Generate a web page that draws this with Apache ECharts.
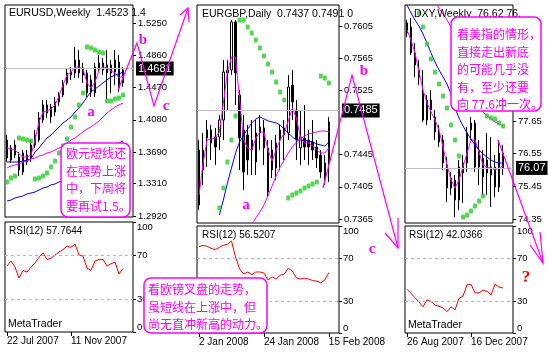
<!DOCTYPE html>
<html><head><meta charset="utf-8">
<script src="https://cdn.jsdelivr.net/npm/echarts@6/dist/echarts.min.js"></script>
<style>html,body{margin:0;padding:0;background:#fff}#c{width:548px;height:352px}</style>
</head><body><div id="c"></div>
<script>
// ---------------- DATA ----------------
// EURUSD weekly  [open, close, low, high]
const usdCandles = [
[1.3837,1.3620,1.3571,1.3897],[1.3595,1.3740,1.3559,1.3777],[1.3777,1.3656,1.3620,1.3837],
[1.3632,1.3475,1.3402,1.3692],[1.3450,1.3680,1.3414,1.3716],[1.3656,1.3571,1.3535,1.3716],
[1.3620,1.3777,1.3571,1.3837],[1.3777,1.3897,1.3740,1.3958],[1.3837,1.4103,1.3813,1.4175],
[1.4079,1.4260,1.4042,1.4320],[1.4260,1.4163,1.4103,1.4320],[1.4236,1.4115,1.4042,1.4272],
[1.4296,1.4175,1.4127,1.4356],[1.4296,1.4380,1.4248,1.4417],[1.4380,1.4525,1.4356,1.4562],
[1.4525,1.4646,1.4501,1.4707],[1.4622,1.4658,1.4562,1.4719],[1.4646,1.4803,1.4586,1.4960],
[1.4803,1.4646,1.4586,1.4924],[1.4707,1.4622,1.4525,1.4767],[1.4646,1.4405,1.4356,1.4682],
[1.4562,1.4417,1.4356,1.4622],[1.4405,1.4719,1.4356,1.4767],[1.4707,1.4767,1.4658,1.4864],
[1.4767,1.4682,1.4622,1.4827],[1.4743,1.4646,1.4320,1.4924],[1.4646,1.4743,1.4405,1.4803],
[1.4803,1.4658,1.4501,1.4924],[1.4779,1.4465,1.4417,1.4864],[1.4525,1.4682,1.4477,1.4719]
];
const usdMaFast = [1.3740,1.3728,1.3716,1.3668,1.3632,1.3632,1.3656,1.3837,1.4054,1.4175,1.4187,1.4211,1.4260,1.4368,1.4501,1.4622,1.4658,1.4719,1.4719,1.4694,1.4525,1.4465,1.4537,1.4682,1.4719,1.4707,1.4670,1.4646,1.4586,1.4610];
const usdMaMid = [1.3571,1.3571,1.3571,1.3571,1.3583,1.3595,1.3608,1.3692,1.3740,1.3801,1.3861,1.3897,1.3946,1.3994,1.4042,1.4079,1.4115,1.4175,1.4223,1.4284,1.4356,1.4417,1.4453,1.4489,1.4525,1.4562,1.4598,1.4622,1.4634,1.4658];
const usdMaSlow = [1.3499,1.3523,1.3535,1.3547,1.3571,1.3583,1.3608,1.3620,1.3644,1.3656,1.3680,1.3692,1.3716,1.3740,1.3765,1.3801,1.3837,1.3861,1.3897,1.3934,1.3970,1.3994,1.4030,1.4066,1.4115,1.4163,1.4199,1.4236,1.4260,1.4284];
const usdMaLong = [1.3100,1.3112,1.3137,1.3149,1.3161,1.3185,1.3197,1.3209,1.3233,1.3257,1.3269,1.3294,1.3306,1.3330,1.3342,1.3366,1.3390,1.3414,1.3450,1.3475,1.3511,1.3547,1.3583,1.3620,1.3656,1.3692,1.3728,1.3765,1.3801,1.3825];
const usdSar = [1.3330,1.3378,1.3402,1.3861,1.3849,1.3837,1.3825,1.3366,1.3378,1.3402,1.3438,1.3511,1.3583,1.3680,1.3765,1.3849,1.3994,1.4115,1.4260,1.4405,1.4960,1.4948,1.4924,1.4900,1.4888,1.4308,1.4308,1.4332,1.4344,1.4380];
const usdRsi = [60,64.5,59,49,56,54.5,59,62.7,68,72,66,67,70,72.7,75,78,77,80,70,69,58,56,64.5,66,66,60,62,63.6,52.7,57.76];
const usdPriceLabels = [1.2920,1.3310,1.3690,1.4080,1.4470,1.4860,1.5250];
const usdDateTicks = [[0,'22 Jul 2007'],[16,'11 Nov 2007']];

// EURGBP daily
const gbpCandles = [
[0.74508,0.73824,0.73762,0.74632],[0.74259,0.74508,0.74073,0.74719],[0.74757,0.74657,0.74297,0.74881],
[0.74595,0.74757,0.74384,0.74819],[0.74670,0.74545,0.74322,0.74782],[0.74670,0.74881,0.74508,0.74943],
[0.74881,0.75478,0.74632,0.75627],[0.75466,0.75503,0.75005,0.75627],[0.75503,0.76100,0.75441,0.76125],
[0.76100,0.75466,0.75068,0.76125],[0.75192,0.74657,0.74259,0.75254],[0.74757,0.74234,0.74011,0.74943],
[0.74695,0.74384,0.74197,0.74819],[0.74508,0.74632,0.74197,0.74881],[0.74359,0.74719,0.74197,0.74881],
[0.74719,0.74794,0.74508,0.74943],[0.74782,0.74533,0.74322,0.74881],[0.74533,0.73986,0.73924,0.74632],
[0.74259,0.74508,0.74160,0.74632],[0.74595,0.74284,0.74135,0.74695],[0.74632,0.74757,0.74259,0.74819],
[0.74782,0.74695,0.74384,0.74881],[0.74719,0.75291,0.74632,0.75441],[0.75316,0.75105,0.74881,0.75503],
[0.75005,0.74632,0.74384,0.75130],[0.74533,0.74670,0.74322,0.75005],[0.74657,0.74545,0.74384,0.75068],
[0.74632,0.74545,0.74322,0.74757],[0.74608,0.74508,0.74384,0.74881],[0.74545,0.74409,0.74284,0.74632],
[0.74446,0.74234,0.74160,0.74508],[0.74346,0.74172,0.74073,0.74446],[0.74346,0.74856,0.74110,0.74918]
];
const gbpMaFast = [0.73948,0.74346,0.74632,0.74645,0.74657,0.74732,0.75092,0.75478,0.75665,0.75665,0.75130,0.74632,0.74533,0.74508,0.74657,0.74732,0.74732,0.74508,0.74371,0.74508,0.74632,0.74719,0.74869,0.75030,0.74906,0.74657,0.74595,0.74595,0.74558,0.74508,0.74471,0.74471,0.74533];
const gbpMaMid = [null,null,null,null,null,0.73700,0.73886,0.74098,0.74284,0.74471,0.74608,0.74695,0.74769,0.74844,0.74894,0.74918,0.74894,0.74869,0.74856,0.74844,0.74819,0.74769,0.74719,0.74670,0.74632,0.74632,0.74632,0.74620,0.74608,0.74583,0.74570,0.74558,0.74608];
const gbpMaSlow = [null,null,null,null,null,null,null,null,null,null,null,null,null,0.73575,0.73662,0.73737,0.73824,0.73936,0.74060,0.74185,0.74297,0.74384,0.74471,0.74545,0.74608,0.74645,0.74682,0.74707,0.74719,0.74732,0.74744,0.74744,0.74732];
const gbpSar = [null,null,null,null,null,0.73787,0.74035,0.74359,0.74632,0.74931,0.76125,0.76125,0.76038,0.75963,0.75876,0.75776,0.75677,0.75577,0.75478,0.75354,0.75229,0.75130,0.73911,0.73948,0.73973,0.73998,0.74035,0.74060,0.74085,0.74110,0.75428,0.75403,0.75341];
const gbpRsi = [80.6,82,81,79,78,80,82,83,86,71,60,55,57,54.5,57,57,56,49.5,52.5,50.5,54,55,60.5,58,51.5,50.5,51,50.5,49,48.5,47,49.5,56.52];
const gbpPriceLabels = [0.7365,0.7405,0.7445,0.7525,0.7565,0.7605];
const gbpDateTicks = [[0,'2 Jan 2008'],[16,'24 Jan 2008'],[32,'15 Feb 2008']];

// DXY weekly
const dxyCandles = [
[80.950,80.613,80.479,81.051],[80.815,79.940,79.873,81.118],[79.940,79.536,79.132,80.277],
[79.368,79.132,78.862,79.704],[78.593,77.684,77.617,79.368],[78.357,77.684,77.516,78.526],
[78.357,78.021,77.684,78.694],[77.785,77.280,77.011,78.021],[77.246,76.943,76.775,77.516],
[77.011,76.236,76.001,77.179],[76.169,75.394,74.923,76.438],[75.394,75.731,75.159,75.933],
[75.664,74.990,74.418,75.832],[74.990,76.102,74.654,76.337],[75.900,76.236,74.889,76.506],
[76.236,77.246,75.933,77.448],[77.347,77.583,77.011,77.785],[77.583,76.102,75.933,77.684],
[76.674,76.102,75.496,77.011],[76.405,75.765,75.159,76.674],[75.900,76.337,75.159,77.246],
[75.832,76.102,74.755,77.112],[76.102,75.428,75.091,76.506],[75.428,76.573,75.260,77.011],
[76.573,76.070,75.832,76.842]
];
const dxyMaFast = [80.714,80.378,79.940,79.300,78.694,78.256,77.953,77.684,77.347,76.775,76.169,75.664,75.394,75.664,76.102,76.573,77.011,77.011,76.607,76.169,76.102,76.068,76.001,76.068,76.135];
const dxyMaMid = [81.556,81.287,81.051,80.849,80.580,80.277,79.940,79.637,79.368,79.132,78.896,78.559,78.088,77.751,77.482,77.246,77.044,76.842,76.674,76.539,76.438,76.337,76.270,76.236,76.236];
const dxyMaSlow = [null,null,null,null,null,null,null,81.691,81.455,81.253,81.051,80.815,80.378,79.940,79.502,79.098,78.761,78.458,78.189,77.953,77.819,77.718,77.617,77.549,77.482];
const dxySar = [null,null,null,81.287,80.815,80.243,79.738,79.300,78.896,78.492,78.088,77.516,77.011,76.472,74.418,74.485,74.620,74.788,74.957,75.125,77.819,77.751,77.718,77.583,77.482];
const dxyRsi = [40.8,37,33,29,24.5,31,29.5,26,25,23.5,20,24.5,21.5,32.5,34.5,45,45.5,37.5,37.5,40,39,35.5,45.5,43,42.04];
const dxyPriceLabels = [74.35,75.45,76.55,77.65,78.75,79.85,80.95];
const dxyDateTicks = [[0,'26 Aug 2007'],[16,'16 Dec 2007']];

const bidPrices = [1.4681, 0.7485, 76.07];
const rsiLevels = [0, 30, 70, 100];
const rsiLast = ['57.7644', '56.5207', '42.0366'];

// ---------------- CHART ----------------
const FONT = 'Liberation Sans';
const CJK = '"Noto Sans CJK SC"';
const PINK = '#ff00ff';
const chart = echarts.init(document.getElementById('c'), null, {renderer:'canvas', width:548, height:352});

function cats(n){ return Array.from({length:n}, (_, i) => String(i)); }
function tickMap(p){ const m = {}; p.forEach(t => { m[t[0]] = t[1]; }); return m; }

const grids = [
  {left:5, top:5, width:128, height:212},
  {left:5, top:222, width:128, height:110},
  {left:197, top:5, width:142, height:218},
  {left:197, top:226, width:142, height:107},
  {left:405, top:5, width:108, height:218},
  {left:405, top:226, width:108, height:107}
].map(g => Object.assign({show:true, borderColor:'#000', borderWidth:1, backgroundColor:'#fff'}, g));

function priceX(gi, n){
  return {type:'category', gridIndex:gi, data:cats(n), boundaryGap:true,
    axisLine:{show:false}, axisTick:{show:false}, axisLabel:{show:false}, splitLine:{show:false}};
}
function rsiX(gi, n, ticks){
  const m = tickMap(ticks);
  const has = (i) => m[i] !== undefined;
  return {type:'category', gridIndex:gi, data:cats(n), boundaryGap:true,
    axisLine:{show:false},
    axisTick:{show:true, alignWithLabel:true, interval:(i) => has(i), length:4, lineStyle:{color:'#000'}},
    axisLabel:{interval:(i) => has(i), formatter:(v, i) => m[i] || '', align:'left',
      color:'#000', fontSize:10, fontFamily:FONT, margin:4},
    splitLine:{show:false}};
}
function priceY(gi, min, max, labels, dec){
  return {type:'value', gridIndex:gi, position:'right', min:min, max:max,
    splitLine:{show:false}, axisLine:{show:false},
    axisTick:{show:true, length:3, customValues:labels, lineStyle:{color:'#000'}},
    axisLabel:{customValues:labels, formatter:(v) => Number(v).toFixed(dec), color:'#000',
      fontSize:9.5, fontFamily:FONT, margin:5}};
}
function rsiY(gi){
  return {type:'value', gridIndex:gi, position:'right', min:0, max:100,
    splitLine:{show:false}, axisLine:{show:false},
    axisTick:{show:true, length:3, customValues:rsiLevels, lineStyle:{color:'#000'}},
    axisLabel:{customValues:rsiLevels, color:'#000', fontSize:9.5, fontFamily:FONT, margin:4,
      verticalAlignMinLabel:'bottom', verticalAlignMaxLabel:'top'}};
}

function line(gi, data, color){
  return {type:'line', xAxisIndex:gi, yAxisIndex:gi, data:data, showSymbol:false, symbol:'none',
    lineStyle:{color:color, width:1}, z:4, silent:true, clip:true};
}
function priceSeries(gi, candles, fast, mid, slow, sar, bid, dec){
  return [
    {type:'candlestick', xAxisIndex:gi, yAxisIndex:gi, data:candles, barWidth:2, z:3, silent:true,
      itemStyle:{color:'#fff', color0:'#000', borderColor:'#000', borderColor0:'#000', borderWidth:1},
      markLine:{symbol:'none', silent:true, animation:false,
        lineStyle:{color:'#c0c0c0', width:1, type:'solid'},
        label:{position:'end', formatter:() => bid.toFixed(dec), color:'#fff', backgroundColor:'#000',
          padding:[2,2,1,2], fontSize:11, fontFamily:FONT, distance:3},
        data:[{yAxis:bid}]}},
    line(gi, fast, PINK), line(gi, mid, '#0000ff'), line(gi, slow, PINK),
    {type:'scatter', xAxisIndex:gi, yAxisIndex:gi, data:sar, symbol:'roundRect', symbolSize:[4,5],
      itemStyle:{color:'#2ccc2c'}, z:5, silent:true}
  ];
}
function rsiSeries(gi, data){
  return {type:'line', xAxisIndex:gi, yAxisIndex:gi, data:data, showSymbol:false, symbol:'none',
    lineStyle:{color:'#ff0000', width:1}, silent:true,
    markLine:{symbol:'none', silent:true, animation:false, label:{show:false},
      lineStyle:{color:'#b8b8b8', width:1, type:[3,3]}, data:[{yAxis:30},{yAxis:70}]}};
}

const series = [].concat(
  priceSeries(0, usdCandles, usdMaFast, usdMaMid, usdMaSlow, usdSar, bidPrices[0], 4),
  [line(0, usdMaLong, '#0000ff')],
  priceSeries(2, gbpCandles, gbpMaFast, gbpMaMid, gbpMaSlow, gbpSar, bidPrices[1], 4),
  priceSeries(4, dxyCandles, dxyMaFast, dxyMaMid, dxyMaSlow, dxySar, bidPrices[2], 2),
  [rsiSeries(1, usdRsi), rsiSeries(3, gbpRsi), rsiSeries(5, dxyRsi)]
);

function txt(x, y, s, opt){
  return Object.assign({type:'text', x:x, y:y, z:100, silent:true,
    style:Object.assign({text:s, fill:'#000', font:'10px ' + FONT, verticalAlign:'middle'}, opt || {})});
}
function poly(points, w){
  return {type:'polyline', z:90, silent:true, shape:{points:points},
    style:{stroke:PINK, lineWidth:w || 1.2, fill:null}};
}
function box(x, y, w, h, tx, ty, s){
  return [
    {type:'rect', z:110, silent:true, shape:{x:x, y:y, width:w, height:h, r:7},
      style:{fill:'#fff', stroke:PINK, lineWidth:1.5}},
    {type:'text', z:111, silent:true, x:tx, y:ty,
      style:{text:s, fill:PINK, font:'12px ' + CJK, lineHeight:17.5, verticalAlign:'top'}}
  ];
}
function letter(x, y, s){
  return txt(x, y, s, {fill:PINK, font:'bold 15px "Liberation Serif"', align:'center'});
}

const graphics = [].concat(
  [
    txt(9, 13, 'EURUSD,Weekly  1.4523 1.4', {font:'10.5px ' + FONT}),
    txt(202, 14, 'EURGBP,Daily  0.7437 0.7491 0', {font:'10.5px ' + FONT}),
    txt(414, 14, 'DXY,Weekly  76.62 76.', {font:'10.5px ' + FONT}),
    txt(9, 231, 'RSI(12) ' + rsiLast[0]),
    txt(202, 235, 'RSI(12) ' + rsiLast[1]),
    txt(409, 235, 'RSI(12) ' + rsiLast[2]),
    txt(8, 324, 'MetaTrader', {font:'10.5px ' + FONT}),
    txt(201, 325, 'MetaTrader', {font:'10.5px ' + FONT}),
    txt(408, 325, 'MetaTrader', {font:'10.5px ' + FONT}),
    poly([[118,90],[137,43],[154,106],[188,8]]),
    poly([[180,15],[188,8],[189,22]]),
    poly([[323,188],[352,75],[398,248]]),
    poly([[398,218],[398,248],[385,233]]),
    poly([[498,140],[543,263]]),
    poly([[540,232],[543,263],[530,245]]),
    letter(143, 40, 'b'), letter(166, 106, 'c'), letter(91, 112, 'a'),
    letter(364, 71, 'b'), letter(246, 205, 'a'), letter(372, 249, 'c'),
    txt(526, 278, '?', {fill:'#ff0000', font:'bold 17px "Liberation Serif"', align:'center'})
  ],
  box(61, 143, 69, 74, 66, 145, '欧元短线还\n在强势上涨\n中，下周将\n要再试1.5。'),
  box(144, 278, 123, 55, 148, 281, '看欧镑叉盘的走势，\n虽短线在上涨中，但\n尚无直冲新高的动力。'),
  box(451, 17, 90, 94, 457, 26, '看美指的情形，\n直接走出新底\n的可能几乎没\n有，至少还要\n向 77.6冲一次。')
);

chart.setOption({
  animation:false,
  backgroundColor:'#fff',
  grid:grids,
  xAxis:[priceX(0,32), rsiX(1,32,usdDateTicks), priceX(2,35), rsiX(3,35,gbpDateTicks), priceX(4,27), rsiX(5,27,dxyDateTicks)],
  yAxis:[priceY(0,1.2907,1.5467,usdPriceLabels,4), rsiY(1), priceY(2,0.73600,0.76311,gbpPriceLabels,4), rsiY(3),
         priceY(4,74.216,81.556,dxyPriceLabels,2), rsiY(5)],
  series:series,
  graphic:graphics
});
</script></body></html>
